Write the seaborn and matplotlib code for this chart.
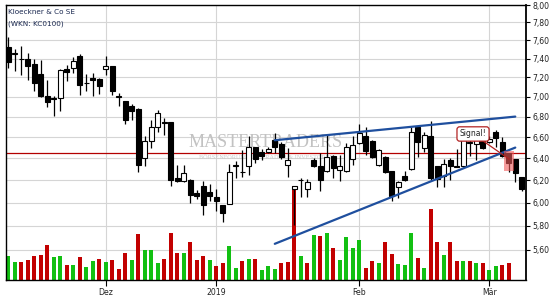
import numpy as np
import matplotlib
matplotlib.use("Agg")
import matplotlib.pyplot as plt
import matplotlib.transforms as mtransforms
from matplotlib.ticker import NullLocator
from matplotlib.patches import Rectangle
import seaborn as sns

# ---------------- data (daily candles, 12 Nov 2018 - 8 Mar 2019) ----------------
opens = [7.52, 7.45, 7.39, 7.40, 7.34, 7.23, 7.01, 6.99, 6.99, 7.29,
         7.30, 7.43, 7.14, 7.19, 7.18, 7.29, 7.32, 7.01, 6.96, 6.91,
         6.88, 6.40, 6.56, 6.70, 6.75, 6.75, 6.22, 6.19, 6.20, 6.08,
         6.15, 6.09, 6.05, 5.98, 5.99, 6.33, 6.27, 6.33, 6.51, 6.46,
         6.46, 6.57, 6.53, 6.34, 6.12, 6.20, 6.12, 6.38, 6.33, 6.28,
         6.42, 6.29, 6.28, 6.39, 6.54, 6.61, 6.56, 6.34, 6.41, 6.28,
         6.14, 6.24, 6.30, 6.70, 6.50, 6.61, 6.33, 6.24, 6.38, 6.33,
         6.33, 6.54, 6.53, 6.56, 6.55, 6.65, 6.55, 6.45, 6.39, 6.23]
highs = [7.64, 7.50, 7.54, 7.46, 7.39, 7.38, 7.17, 7.01, 7.29, 7.33,
         7.42, 7.45, 7.23, 7.25, 7.19, 7.43, 7.32, 7.04, 6.96, 6.93,
         6.89, 6.61, 6.77, 6.87, 6.79, 6.75, 6.34, 6.34, 6.21, 6.11,
         6.19, 6.16, 6.12, 5.98, 6.35, 6.37, 6.48, 6.61, 6.51, 6.49,
         6.51, 6.64, 6.55, 6.50, 6.15, 6.22, 6.21, 6.40, 6.45, 6.62,
         6.43, 6.43, 6.54, 6.61, 6.73, 6.70, 6.57, 6.49, 6.42, 6.28,
         6.19, 6.28, 6.70, 6.71, 6.65, 6.76, 6.33, 6.39, 6.40, 6.49,
         6.61, 6.58, 6.59, 6.61, 6.61, 6.67, 6.60, 6.45, 6.39, 6.23]
lows = [7.30, 7.27, 7.22, 7.17, 7.06, 7.00, 6.90, 6.81, 6.86, 7.16,
        7.25, 7.02, 7.06, 7.01, 7.03, 7.22, 7.02, 6.91, 6.73, 6.77,
        6.27, 6.33, 6.50, 6.65, 6.62, 6.15, 6.18, 6.18, 6.00, 6.03,
        5.89, 6.01, 5.93, 5.83, 5.99, 6.22, 6.23, 6.25, 6.36, 6.38,
        6.45, 6.45, 6.39, 6.23, 5.81, 6.05, 6.05, 6.32, 6.10, 6.27,
        6.22, 6.19, 6.27, 6.34, 6.53, 6.43, 6.40, 6.33, 6.26, 6.01,
        6.04, 6.19, 6.29, 6.41, 6.46, 6.20, 6.14, 6.14, 6.20, 6.32,
        6.32, 6.42, 6.38, 6.49, 6.54, 6.51, 6.41, 6.27, 6.18, 6.10]
closes = [7.36, 7.46, 7.39, 7.32, 7.14, 7.01, 6.95, 6.98, 7.28, 7.26,
          7.37, 7.12, 7.14, 7.17, 7.11, 7.32, 7.06, 7.00, 6.77, 6.86,
          6.34, 6.56, 6.70, 6.84, 6.74, 6.20, 6.19, 6.26, 6.07, 6.06,
          5.98, 6.06, 6.01, 5.91, 6.27, 6.34, 6.27, 6.51, 6.39, 6.42,
          6.49, 6.51, 6.41, 6.38, 6.15, 6.20, 6.18, 6.33, 6.20, 6.41,
          6.31, 6.33, 6.51, 6.52, 6.64, 6.47, 6.41, 6.48, 6.27, 6.06,
          6.18, 6.20, 6.65, 6.55, 6.62, 6.22, 6.21, 6.35, 6.33, 6.32,
          6.60, 6.55, 6.58, 6.50, 6.58, 6.59, 6.42, 6.36, 6.26, 6.12]
volumes = [24, 18, 18, 20, 24, 25, 35, 23, 24, 15,
           15, 23, 13, 19, 21, 18, 20, 11, 27, 20,
           46, 30, 30, 17, 21, 47, 27, 27, 38, 20,
           24, 20, 14, 17, 34, 12, 19, 21, 21, 10,
           14, 11, 17, 18, 94, 24, 17, 45, 44, 47,
           32, 20, 43, 32, 40, 12, 19, 17, 38, 26,
           16, 15, 47, 22, 12, 71, 38, 25, 38, 19,
           19, 19, 17, 17, 10, 14, 15, 17, np.nan, np.nan]

month_labels = ["Dez", "2019", "Feb", "Mär"]
month_start_idx = [15, 32, 54, 74]
price_ticks = [5.6, 5.8, 6.0, 6.2, 6.4, 6.6, 6.8, 7.0, 7.2, 7.4, 7.6, 7.8, 8.0]
price_tick_labels = ["5,60", "5,80", "6,00", "6,20", "6,40", "6,60", "6,80",
                     "7,00", "7,20", "7,40", "7,60", "7,80", "8,00"]
title_line1 = "Kloeckner & Co SE"
title_line2 = "(WKN: KC0100)"
ref_level = 6.45
upper_trend_x = [41, 78]
upper_trend_y = [6.57, 6.80]
lower_trend_x = [41, 78]
lower_trend_y = [5.65, 6.50]
signal_text = "Signal!"
signal_target = (77.1, 6.39)
signal_box = (71.5, 6.63)
signal_zone_x = [76.25, 77.8]
signal_zone_y = [6.28, 6.47]
watermark = "MASTERTRADERS"
watermark_sub = "BÖRSENFORUM FÜR TRADER & INVESTOREN"

# ---------------- style ----------------
sns.set_style("white")
plt.rcParams["font.family"] = ["DejaVu Sans"]

fig = plt.figure(figsize=(5.55, 3.0), dpi=100)
ax = fig.add_axes([6 / 555, 20 / 300, 520 / 555, 275 / 300])
ax.set_facecolor("white")
ax.set_yscale("log")

o = np.array(opens)
h = np.array(highs)
l = np.array(lows)
c = np.array(closes)
v = np.array(volumes, dtype=float)
idx = np.arange(len(c))

# watermark
ax.text(0.50, 0.482, watermark, transform=ax.transAxes, ha="center",
        va="baseline", fontsize=13, color="#c2c2c2",
        family=["Liberation Serif", "DejaVu Serif"], zorder=1)
ax.text(0.50, 0.447, watermark_sub, transform=ax.transAxes, ha="center",
        va="center", fontsize=4.5, color="#cbcbcb",
        family=["Liberation Serif", "DejaVu Serif"], zorder=1)

# volume bars (bottom band of the panel)
vol_tf = mtransforms.blended_transform_factory(
    ax.transData, mtransforms.Affine2D().scale(1, 1 / 275) + ax.transAxes)
prev = np.r_[c[0], c[:-1]]
vol_colors = np.where(c >= prev, "#12c012", "#c20000")
ok = ~np.isnan(v)
ax.bar(idx[ok], v[ok], width=0.62, color=vol_colors[ok], transform=vol_tf,
       zorder=2, linewidth=0)

# reference line
ax.axhline(ref_level, color="#b30000", lw=0.9, zorder=2.5)

# candles
ax.vlines(idx, l, h, color="black", lw=0.9, zorder=3)
up = c >= o
body_low = np.minimum(o, c)
body_h = np.abs(c - o)
ax.bar(idx[up], body_h[up], bottom=body_low[up], width=0.74,
       facecolor="white", edgecolor="black", linewidth=0.8, zorder=4)
ax.bar(idx[~up], body_h[~up], bottom=body_low[~up], width=0.74,
       facecolor="black", edgecolor="black", linewidth=0.8, zorder=4)

# trend lines
sns.lineplot(x=upper_trend_x, y=upper_trend_y, ax=ax, color="#1f4f9e",
             lw=1.6, zorder=5)
sns.lineplot(x=lower_trend_x, y=lower_trend_y, ax=ax, color="#1f4f9e",
             lw=1.6, zorder=5)

# signal zone + label
ax.add_patch(Rectangle((signal_zone_x[0], signal_zone_y[0]),
                       signal_zone_x[1] - signal_zone_x[0],
                       signal_zone_y[1] - signal_zone_y[0],
                       facecolor="#f05a5a", alpha=0.6, edgecolor="none",
                       zorder=6))
ax.annotate(signal_text, xy=signal_target, xytext=signal_box,
            ha="center", va="center", fontsize=5.5, color="#222222",
            bbox=dict(boxstyle="round,pad=0.35", fc="white", ec="#b22222",
                      lw=0.9),
            arrowprops=dict(arrowstyle="-", color="#b22222", lw=0.9,
                            shrinkA=0, shrinkB=0),
            zorder=7)

# title
ax.text(0.003, 0.985, title_line1, transform=ax.transAxes, ha="left",
        va="top", fontsize=5.2, color="#1a2850", zorder=8)
ax.text(0.003, 0.945, title_line2, transform=ax.transAxes, ha="left",
        va="top", fontsize=5.2, color="#1a2850", zorder=8)

# axes, ticks, grid
ax.set_xlim(-0.35, 79.65)
ax.set_ylim(5.36, 8.0)
ax.set_xticks(month_start_idx, month_labels)
ax.set_yticks(price_ticks, price_tick_labels)
ax.yaxis.set_minor_locator(NullLocator())
ax.xaxis.set_minor_locator(NullLocator())
ax.yaxis.tick_right()
ax.tick_params(axis="y", which="major", direction="out", length=3,
               width=0.8, pad=1.5, labelsize=5.6, color="black",
               labelcolor="#222222", right=True, left=False,
               labelright=True, labelleft=False)
ax.tick_params(axis="x", which="major", direction="out", length=4,
               width=0.8, pad=1.5, labelsize=5.6, color="black",
               labelcolor="#222222", bottom=True)
ax.grid(True, color="#d5d5d5", lw=0.8)
ax.set_axisbelow(True)
for side, sp in ax.spines.items():
    sp.set_visible(True)
    sp.set_color("black")
    sp.set_linewidth(1.0)
ax.spines["right"].set_linewidth(1.3)
ax.set_xlabel("")
ax.set_ylabel("")

fig.savefig("out.png", dpi=100)
